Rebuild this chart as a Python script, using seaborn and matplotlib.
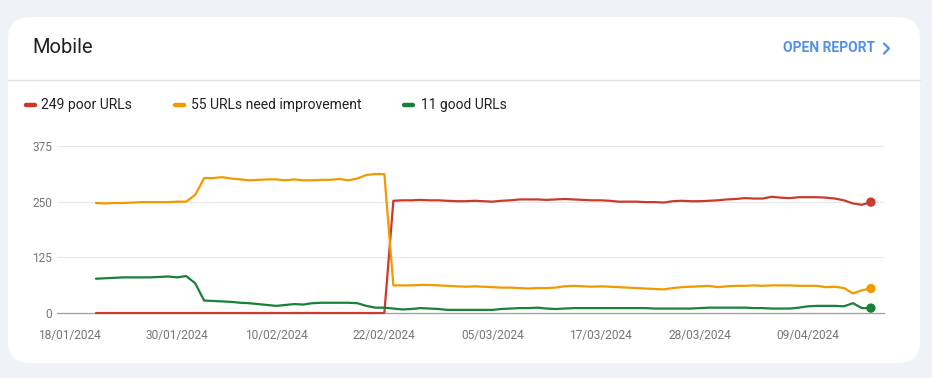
import numpy as np
import pandas as pd
import matplotlib.pyplot as plt
import matplotlib.dates as mdates
from matplotlib.patches import FancyBboxPatch
import seaborn as sns

# daily counts, 21/01/2024 .. 16/04/2024
start_date = "2024-01-21"
poor = [0] * 33 + [
    252, 253, 253, 254, 253, 253, 252, 251, 251, 252, 251, 250, 252, 253, 255, 255, 255, 254,
    255, 256, 255, 254, 253, 253, 252, 250, 250, 250, 249, 249, 248, 251, 252, 251, 251, 252,
    253, 255, 256, 258, 257, 257, 261, 259, 258, 260, 260, 260, 259, 257, 253, 246, 243, 249]
need_improvement = [
    247, 246, 247, 247, 248, 249, 249, 249, 249, 250, 250,
    265, 303, 303, 305, 302, 300, 298, 299, 300, 300, 298, 300, 298, 298, 299, 299, 301, 298,
    302, 310, 312, 312,
    62, 62, 62, 63, 63, 62, 61, 60, 59, 60, 59, 58, 57, 57, 56, 55, 56, 56, 57, 60, 61, 60,
    59, 60, 59, 58,
    57, 56, 55, 54, 53, 56, 58, 59, 60, 61, 58, 60, 61, 61, 62, 61, 62, 62, 62, 61, 61, 61,
    58, 59, 56, 44, 51, 55]
good = [
    77, 78, 79, 80, 80, 80, 80, 81, 82, 80, 83, 67, 28,
    27, 26, 25, 23, 22, 20, 18, 16, 18, 20, 19, 22, 23, 23, 23, 23, 22, 16, 12, 12,
    10, 8, 9, 11, 10, 9, 7, 7, 7, 7, 7, 7, 9, 10, 11, 11, 12, 10, 9, 10, 11, 11, 11, 11, 11, 11,
    11, 11, 11, 10, 10, 10, 10, 10, 11, 12, 12, 12, 12, 12, 11, 11, 10, 10, 10, 12, 15, 16,
    16, 16, 15, 22, 11, 11]

x_tick_labels = ["18/01/2024", "30/01/2024", "10/02/2024", "22/02/2024",
                 "05/03/2024", "17/03/2024", "28/03/2024", "09/04/2024"]
y_ticks = [0, 125, 250, 375]

statuses = ["poor", "need improvement", "good"]
colors = {"poor": "#c93a2c", "need improvement": "#f29900", "good": "#188038"}
legend_labels = [f"{poor[-1]} poor URLs",
                 f"{need_improvement[-1]} URLs need improvement",
                 f"{good[-1]} good URLs"]

dates = pd.date_range(start_date, periods=len(poor), freq="D")
df = pd.concat([
    pd.DataFrame({"date": dates, "count": vals, "status": name})
    for name, vals in zip(statuses, [poor, need_improvement, good])
], ignore_index=True)
last = df[df["date"] == dates[-1]]

sns.set_theme(style="white")
plt.rcParams["font.family"] = ["Roboto", "DejaVu Sans"]

W, H = 932, 378
fig = plt.figure(figsize=(W / 100, H / 100), dpi=100)
fig.patch.set_facecolor("#eff3f8")

# card background, drawn in pixel coordinates
bg = fig.add_axes([0, 0, 1, 1], zorder=0)
bg.set_xlim(0, W)
bg.set_ylim(H, 0)
bg.axis("off")
bg.add_patch(FancyBboxPatch((8, 17), 912, 346, boxstyle="round,pad=0,rounding_size=22",
                            fc="white", ec="none"))
bg.plot([8, 920], [80, 80], color="#e2e2e2", lw=0.9)
bg.text(32, 47.5, "Mobile", fontsize=14.5, color="#202124", va="center", ha="left")
bg.text(875, 48.5, "OPEN REPORT", fontsize=10, color="#5290ee", va="center", ha="right",
        fontweight="bold")
bg.plot([884, 889, 884], [43.5, 48.5, 53.5], color="#5290ee", lw=1.6, solid_capstyle="round")

leg_x = [(25.5, 34.5, 41), (174.5, 183.5, 191), (403.5, 412.5, 421)]
for (x0, x1, tx), name, label in zip(leg_x, statuses, legend_labels):
    bg.plot([x0, x1], [104.5, 104.5], color=colors[name], lw=3.2, solid_capstyle="round")
    bg.text(tx, 104.5, label, fontsize=10, color="#202124", va="center", ha="left")

# chart area
left, right, top, bottom = 57, 884, 146, 313
ax = fig.add_axes([left / W, 1 - bottom / H, (right - left) / W, (bottom - top) / H], zorder=1)
ax.set_facecolor("none")

sns.lineplot(data=df, x="date", y="count", hue="status", hue_order=statuses,
             palette=colors, linewidth=1.6, legend=False, ax=ax, clip_on=False, zorder=3)
sns.scatterplot(data=last, x="date", y="count", hue="status", hue_order=statuses,
                palette=colors, s=45, linewidth=0, legend=False, ax=ax, clip_on=False, zorder=4)

tick_dates = pd.to_datetime(x_tick_labels, format="%d/%m/%Y")
day0 = tick_dates[0]
ax.set_xlim(day0 - pd.Timedelta(days=1.33), day0 + pd.Timedelta(days=90.45))
ax.set_ylim(0, 375)
ax.set_xticks(tick_dates)
ax.set_xticklabels(x_tick_labels)
ax.set_yticks(y_ticks)
ax.set_yticklabels([str(v) for v in y_ticks])
ax.tick_params(axis="x", length=0, pad=11.5, labelsize=8.6, labelcolor="#757575")
ax.tick_params(axis="y", length=0, pad=3.6, labelsize=8.6, labelcolor="#757575")
ax.set_xlabel("")
ax.set_ylabel("")

for v in y_ticks[1:]:
    ax.axhline(v, color="#e8e8e8", lw=0.9, zorder=1)
for s in ["top", "right", "left"]:
    ax.spines[s].set_visible(False)
ax.spines["bottom"].set_color("#9e9e9e")
ax.spines["bottom"].set_linewidth(0.9)
ax.spines["bottom"].set_zorder(2)

fig.savefig("out.png", dpi=100, facecolor=fig.get_facecolor())
